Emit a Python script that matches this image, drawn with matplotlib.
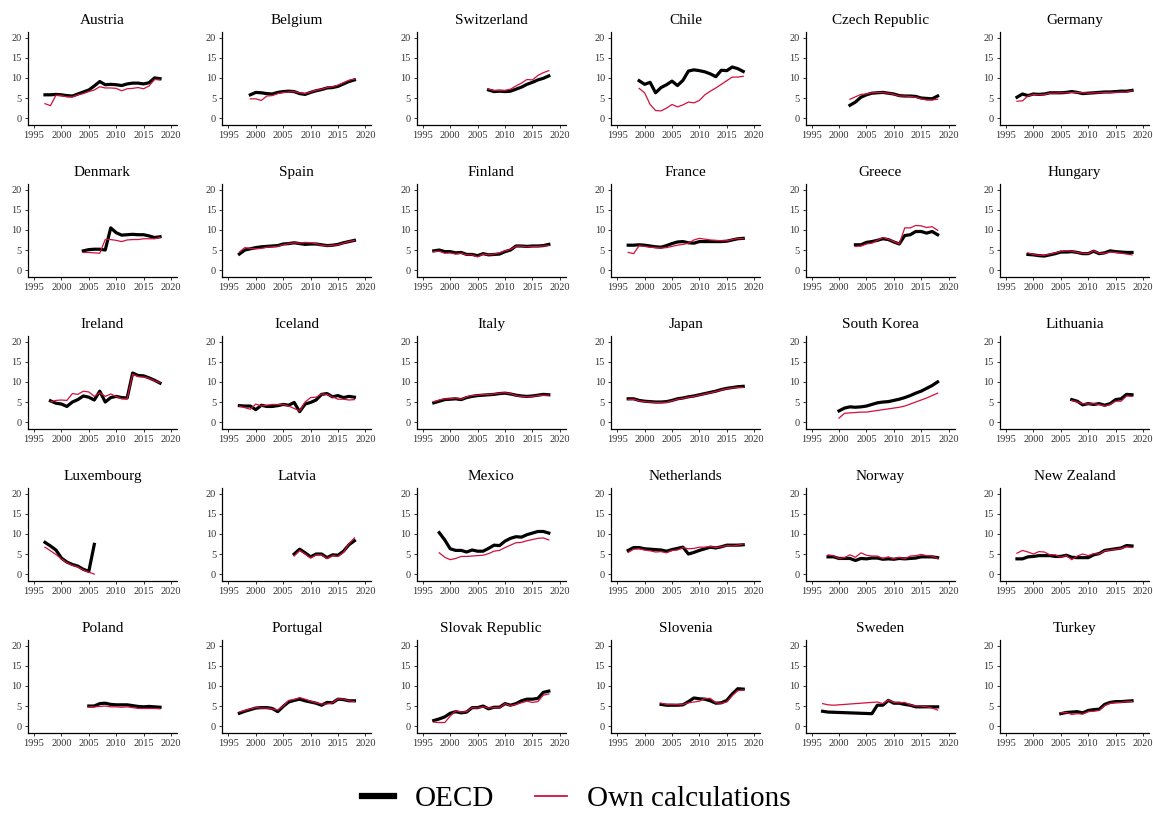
"""
Small multiples: OECD series vs own calculations, 30 countries, 1997-2018.
"""

import numpy as np
import matplotlib.pyplot as plt
from matplotlib.lines import Line2D

plt.rcParams["font.family"] = ["Liberation Serif", "DejaVu Serif"]

# -----------------------------
# 1. Data (value per year, None = missing)
# -----------------------------
countries = [
    "Austria", "Belgium", "Switzerland", "Chile", "Czech Republic", "Germany",
    "Denmark", "Spain", "Finland", "France", "Greece", "Hungary",
    "Ireland", "Iceland", "Italy", "Japan", "South Korea", "Lithuania",
    "Luxembourg", "Latvia", "Mexico", "Netherlands", "Norway", "New Zealand",
    "Poland", "Portugal", "Slovak Republic", "Slovenia", "Sweden", "Turkey",
]

# first year of each country's series
start_year = [
    1997, 1999, 2007, 1999, 2002, 1997,
    2004, 1997, 1997, 1997, 2003, 1999,
    1998, 1997, 1997, 1997, 2000, 2007,
    1997, 2007, 1998, 1997, 1998, 1997,
    2005, 1997, 1997, 2003, 1997, 2005,
]

austria_oecd = [5.8, 5.8, 5.9, 5.8, 5.6, 5.5, 6.0, 6.5, 7.0, 8.0, 9.1, 8.3, 8.4, 8.3, 8.1, 8.5, 8.7, 8.7, 8.5, 8.8, 10.0, 9.8]
austria_own = [3.6, 3.1, 5.7, 5.6, 5.3, 5.3, 5.8, 6.1, 6.6, 7.0, 7.8, 7.5, 7.5, 7.4, 6.8, 7.3, 7.4, 7.6, 7.3, 8.0, 9.6, 9.5]
belgium_oecd = [5.8, 6.4, 6.3, 6.1, 6.0, 6.4, 6.6, 6.7, 6.6, 6.1, 5.9, 6.4, 6.8, 7.1, 7.5, 7.6, 7.9, 8.5, 9.1, 9.5]
belgium_own = [4.8, 4.8, 4.4, 5.5, 5.6, 6.1, 6.4, 6.5, 6.6, 6.3, 6.1, 6.5, 6.9, 7.2, 7.6, 7.8, 8.2, 8.8, 9.4, 9.7]
switzerland_oecd = [7.0, 6.6, 6.7, 6.6, 6.7, 7.2, 7.7, 8.4, 8.9, 9.5, 9.9, 10.5]
switzerland_own = [7.2, 6.9, 6.9, 6.9, 7.2, 8.0, 8.7, 9.6, 9.5, 10.6, 11.3, 11.8]
chile_oecd = [9.3, 8.4, 8.9, 6.3, 7.6, 8.3, 9.2, 8.1, 9.4, 11.7, 12.0, 11.8, 11.5, 11.0, 10.3, 11.9, 11.8, 12.7, 12.3, 11.6]
chile_own = [7.4, 6.3, 3.4, 1.9, 1.8, 2.5, 3.4, 2.8, 3.3, 4.0, 3.8, 4.4, 5.8, 6.7, 7.5, 8.4, 9.3, 10.2, 10.2, 10.4]
czech_oecd = [3.2, 4.0, 5.2, 5.8, 6.2, 6.3, 6.4, 6.2, 6.0, 5.6, 5.5, 5.5, 5.4, 5.0, 4.9, 4.8, 5.5]
czech_own = [4.7, 5.3, 5.9, 6.0, 6.3, 6.4, 6.4, 6.2, 5.9, 5.5, 5.5, 5.4, 5.2, 4.8, 4.5, 4.5, 4.7]
germany_oecd = [5.2, 6.0, 5.6, 6.0, 5.9, 6.0, 6.3, 6.3, 6.3, 6.4, 6.6, 6.4, 6.1, 6.2, 6.3, 6.4, 6.5, 6.5, 6.6, 6.7, 6.7, 6.9]
germany_own = [4.2, 4.3, 5.5, 5.9, 5.8, 5.9, 6.2, 6.2, 6.3, 6.3, 6.4, 6.4, 6.3, 6.2, 6.3, 6.3, 6.4, 6.4, 6.4, 6.5, 6.5, 6.8]

denmark_oecd = [4.8, 5.1, 5.2, 5.2, 5.0, 10.5, 9.3, 8.7, 8.8, 8.9, 8.8, 8.8, 8.5, 8.1, 8.3]
denmark_own = [4.4, 4.4, 4.3, 4.2, 7.6, 7.6, 7.4, 7.1, 7.5, 7.6, 7.6, 7.8, 7.8, 7.8, 8.1]
spain_oecd = [4.0, 5.0, 5.3, 5.6, 5.8, 5.9, 6.0, 6.1, 6.5, 6.6, 6.8, 6.6, 6.4, 6.5, 6.5, 6.3, 6.1, 6.2, 6.4, 6.8, 7.1, 7.4]
spain_own = [4.5, 5.6, 5.4, 5.3, 5.4, 5.7, 5.8, 5.9, 6.3, 6.6, 6.8, 6.7, 6.9, 6.8, 6.6, 6.2, 6.0, 6.2, 6.3, 6.7, 7.1, 7.4]
finland_oecd = [4.8, 5.0, 4.6, 4.6, 4.3, 4.4, 3.9, 3.9, 3.6, 4.1, 3.8, 3.9, 4.0, 4.6, 5.0, 6.0, 6.0, 5.9, 6.0, 6.0, 6.1, 6.4]
finland_own = [4.6, 4.7, 4.2, 4.3, 4.0, 4.2, 3.8, 3.8, 3.3, 4.0, 3.8, 4.0, 4.3, 4.8, 5.1, 5.9, 6.0, 5.8, 5.9, 5.9, 6.0, 6.1]
france_oecd = [6.2, 6.2, 6.3, 6.2, 6.0, 5.8, 5.7, 6.1, 6.6, 7.0, 7.1, 6.8, 6.7, 7.1, 7.1, 7.1, 7.1, 7.1, 7.2, 7.5, 7.8, 7.9]
france_own = [4.4, 4.1, 6.1, 5.9, 5.7, 5.6, 5.5, 5.6, 5.9, 6.2, 6.4, 6.7, 7.5, 7.9, 7.7, 7.5, 7.4, 7.3, 7.3, 7.6, 7.9, 7.8]
greece_oecd = [6.3, 6.3, 6.9, 7.1, 7.4, 7.8, 7.6, 7.0, 6.5, 8.6, 8.8, 9.6, 9.6, 9.2, 9.6, 8.8]
greece_own = [5.9, 6.0, 6.5, 6.7, 7.4, 8.1, 7.7, 7.1, 6.5, 10.5, 10.5, 11.1, 11.0, 10.6, 10.8, 9.9]
hungary_oecd = [3.9, 3.8, 3.6, 3.5, 3.8, 4.1, 4.5, 4.5, 4.6, 4.4, 4.1, 4.1, 4.7, 4.1, 4.3, 4.8, 4.6, 4.5, 4.4, 4.4]
hungary_own = [4.3, 3.9, 3.7, 3.7, 4.0, 4.3, 4.7, 4.8, 4.7, 4.4, 4.2, 4.1, 4.8, 4.2, 4.2, 4.5, 4.4, 4.2, 4.0, 3.8]

ireland_oecd = [5.3, 4.7, 4.5, 3.9, 5.0, 5.6, 6.5, 6.2, 5.5, 7.7, 5.0, 6.1, 6.4, 6.1, 6.0, 12.2, 11.6, 11.5, 11.0, 10.4, 9.7]
ireland_own = [5.0, 5.4, 5.5, 5.4, 7.1, 6.9, 7.7, 7.5, 6.4, 7.3, 6.4, 7.0, 6.4, 5.8, 5.8, 11.9, 11.3, 11.2, 10.9, 10.3, 9.8]
iceland_oecd = [4.1, 4.0, 4.0, 3.1, 4.2, 3.9, 3.9, 4.1, 4.4, 4.2, 4.9, 2.6, 4.5, 4.9, 5.5, 6.9, 7.1, 6.3, 6.6, 6.1, 6.4, 6.2]
iceland_own = [4.0, 3.6, 3.2, 4.5, 4.0, 4.2, 4.4, 4.4, 4.4, 4.0, 3.4, 2.8, 5.0, 6.1, 6.2, 7.0, 6.9, 6.3, 5.7, 5.7, 5.5, 5.6]
italy_oecd = [4.8, 5.2, 5.6, 5.7, 5.8, 5.6, 6.1, 6.4, 6.6, 6.7, 6.8, 6.9, 7.1, 7.2, 7.0, 6.7, 6.5, 6.4, 6.5, 6.7, 6.9, 6.8]
italy_own = [5.1, 5.5, 5.8, 5.8, 6.0, 5.7, 6.3, 6.6, 6.7, 6.9, 6.9, 7.0, 7.2, 7.3, 7.1, 6.6, 6.4, 6.3, 6.4, 6.6, 6.7, 6.7]
japan_oecd = [5.8, 5.8, 5.4, 5.2, 5.1, 5.0, 5.0, 5.1, 5.4, 5.8, 6.0, 6.3, 6.5, 6.8, 7.1, 7.4, 7.7, 8.1, 8.4, 8.6, 8.8, 8.9]
japan_own = [5.6, 5.7, 5.3, 5.1, 5.0, 4.9, 4.9, 4.9, 5.3, 5.7, 5.9, 6.2, 6.4, 6.7, 7.0, 7.3, 7.6, 8.0, 8.3, 8.5, 8.6, 8.6]
korea_oecd = [2.8, 3.5, 3.8, 3.7, 3.8, 4.0, 4.4, 4.8, 5.0, 5.1, 5.4, 5.7, 6.1, 6.6, 7.2, 7.7, 8.4, 9.1, 10.0]
korea_own = [1.0, 2.2, 2.3, 2.4, 2.5, 2.5, 2.7, 2.9, 3.1, 3.3, 3.5, 3.7, 4.0, 4.5, 5.0, 5.5, 6.0, 6.6, 7.2]
lithuania_oecd = [5.6, 5.2, 4.3, 4.6, 4.4, 4.6, 4.2, 4.6, 5.6, 5.8, 6.9, 6.8]
lithuania_own = [5.4, 5.0, 4.6, 4.5, 4.6, 4.4, 4.0, 4.4, 5.2, 5.2, 6.5, 6.4]

luxembourg_oecd = [7.9, 7.0, 6.0, 4.0, 3.0, 2.4, 2.0, 1.2, 0.7, 7.4]
luxembourg_own = [6.7, 5.8, 4.9, 3.8, 2.9, 2.2, 1.8, 1.0, 0.5, 0.0]
latvia_oecd = [5.0, 6.2, 5.3, 4.3, 5.0, 5.0, 4.1, 4.8, 4.7, 5.7, 7.3, 8.3]
latvia_own = [4.5, 5.9, 5.0, 4.0, 4.8, 4.8, 3.9, 4.6, 4.4, 5.4, 7.6, 9.0]
mexico_oecd = [10.3, 8.5, 6.3, 5.9, 5.9, 5.5, 6.0, 5.7, 5.7, 6.4, 7.2, 7.1, 8.2, 8.9, 9.3, 9.2, 9.8, 10.2, 10.6, 10.6, 10.2]
mexico_own = [5.3, 4.2, 3.6, 3.9, 4.4, 4.4, 4.5, 4.6, 4.7, 5.1, 5.7, 5.9, 6.6, 7.2, 7.8, 7.9, 8.3, 8.6, 8.9, 9.0, 8.5]
netherlands_oecd = [5.9, 6.6, 6.6, 6.3, 6.2, 6.1, 6.0, 5.7, 6.1, 6.4, 6.7, 5.0, 5.4, 5.9, 6.3, 6.7, 6.5, 6.8, 7.2, 7.2, 7.2, 7.3]
netherlands_own = [5.4, 6.2, 6.3, 6.0, 5.8, 5.5, 5.6, 5.3, 5.9, 6.0, 6.6, 6.3, 6.4, 6.7, 6.7, 6.9, 6.6, 6.8, 7.1, 7.0, 7.2, 7.5]
norway_oecd = [4.3, 4.3, 3.9, 3.9, 3.9, 3.4, 3.9, 3.8, 4.0, 4.0, 3.7, 3.8, 3.7, 3.9, 3.8, 3.9, 4.0, 4.3, 4.3, 4.3, 4.1]
norway_own = [4.8, 4.6, 3.9, 4.1, 4.8, 4.2, 5.3, 4.7, 4.5, 4.5, 3.9, 4.3, 3.8, 4.2, 3.8, 4.5, 4.6, 4.9, 4.6, 4.5, 3.9]
nz_oecd = [3.8, 3.8, 4.3, 4.4, 4.6, 4.6, 4.6, 4.4, 4.4, 4.7, 4.2, 4.1, 4.1, 4.1, 4.8, 5.1, 5.9, 6.1, 6.3, 6.5, 7.1, 7.0]
nz_own = [5.2, 5.9, 5.5, 5.0, 5.6, 5.5, 4.8, 4.8, 4.2, 4.6, 3.6, 4.5, 5.0, 4.6, 5.1, 5.0, 5.8, 6.0, 6.2, 6.4, 6.8, 6.6]

poland_oecd = [5.0, 5.0, 5.6, 5.7, 5.4, 5.3, 5.3, 5.3, 5.1, 4.9, 4.8, 4.9, 4.8, 4.7]
poland_own = [4.8, 4.8, 4.9, 5.0, 4.8, 4.8, 4.7, 4.8, 4.6, 4.4, 4.4, 4.4, 4.4, 4.3]
portugal_oecd = [3.2, 3.7, 4.1, 4.5, 4.6, 4.6, 4.4, 3.6, 4.9, 6.0, 6.4, 6.7, 6.3, 6.0, 5.7, 5.2, 5.9, 5.8, 6.7, 6.6, 6.3, 6.3]
portugal_own = [3.5, 3.9, 4.3, 4.6, 4.5, 4.5, 4.3, 4.0, 5.0, 6.4, 6.6, 7.1, 6.7, 6.2, 5.8, 5.5, 5.5, 5.8, 6.8, 6.7, 6.3, 6.1]
slovakia_oecd = [1.4, 1.8, 2.3, 3.2, 3.6, 3.3, 3.5, 4.6, 4.6, 5.0, 4.3, 4.7, 4.7, 5.6, 5.2, 5.6, 6.3, 6.7, 6.7, 6.9, 8.4, 8.7]
slovakia_own = [1.0, 0.9, 0.9, 2.5, 3.8, 3.5, 3.6, 4.6, 4.5, 4.8, 4.5, 4.6, 4.6, 5.6, 5.1, 5.4, 5.8, 6.2, 5.9, 6.1, 7.7, 8.0]
slovenia_oecd = [5.4, 5.2, 5.2, 5.2, 5.3, 6.1, 7.0, 6.8, 6.7, 6.3, 5.7, 5.8, 6.4, 8.0, 9.3, 9.2]
slovenia_own = [5.7, 5.4, 5.4, 5.3, 5.4, 5.8, 6.0, 6.2, 6.9, 6.9, 5.8, 5.7, 6.0, 7.6, 8.8, 9.0]
sweden_oecd = [3.7, 3.5, None, None, None, None, None, None, None, 3.1, 5.2, 5.2, 6.4, 5.7, 5.7, 5.4, 5.2, 4.8, 4.8, 4.8, 4.8, 4.8]
sweden_own = [5.6, 5.3, 5.2, 5.3, 5.4, 5.5, 5.6, 5.7, 5.8, 5.9, 6.0, 5.6, 6.5, 5.9, 5.8, 5.9, 5.3, 5.0, 5.0, 4.8, 4.5, 4.0]
turkey_oecd = [3.1, 3.4, 3.5, 3.6, 3.3, 3.9, 4.1, 4.2, 5.4, 5.9, 6.1, 6.1, 6.2, 6.3]
turkey_own = [3.3, 3.4, 2.9, 3.1, 3.0, 3.6, 3.7, 3.9, 5.1, 5.7, 5.8, 5.9, 6.1, 6.1]

oecd_series = [
    austria_oecd, belgium_oecd, switzerland_oecd, chile_oecd, czech_oecd, germany_oecd,
    denmark_oecd, spain_oecd, finland_oecd, france_oecd, greece_oecd, hungary_oecd,
    ireland_oecd, iceland_oecd, italy_oecd, japan_oecd, korea_oecd, lithuania_oecd,
    luxembourg_oecd, latvia_oecd, mexico_oecd, netherlands_oecd, norway_oecd, nz_oecd,
    poland_oecd, portugal_oecd, slovakia_oecd, slovenia_oecd, sweden_oecd, turkey_oecd,
]
own_series = [
    austria_own, belgium_own, switzerland_own, chile_own, czech_own, germany_own,
    denmark_own, spain_own, finland_own, france_own, greece_own, hungary_own,
    ireland_own, iceland_own, italy_own, japan_own, korea_own, lithuania_own,
    luxembourg_own, latvia_own, mexico_own, netherlands_own, norway_own, nz_own,
    poland_own, portugal_own, slovakia_own, slovenia_own, sweden_own, turkey_own,
]

x_ticks = [1995, 2000, 2005, 2010, 2015, 2020]
y_ticks = [0, 5, 10, 15, 20]

OECD_COLOR = "black"
OWN_COLOR = "#d2103c"


def series_xy(first_year, values):
    # drop missing years so the line joins the observed points
    years = np.arange(first_year, first_year + len(values))
    pts = [(yr, v) for yr, v in zip(years, values) if v is not None]
    return [p[0] for p in pts], [p[1] for p in pts]


# -----------------------------
# 2. Figure with 5 x 6 panels
# -----------------------------
fig = plt.figure(figsize=(11.53, 8.15), dpi=100)

left0, width = 28 / 1153, 149 / 1153
col_step = 194.4 / 1153
bottom0, height = 1 - 125 / 815, 93 / 815
row_step = 152 / 815

for i, name in enumerate(countries):
    row, col = divmod(i, 6)
    ax = fig.add_axes([left0 + col * col_step, bottom0 - row * row_step, width, height])

    xs, ys = series_xy(start_year[i], oecd_series[i])
    ax.plot(xs, ys, color=OECD_COLOR, linewidth=2.3, solid_joinstyle="round")
    xs, ys = series_xy(start_year[i], own_series[i])
    ax.plot(xs, ys, color=OWN_COLOR, linewidth=0.9)

    ax.set_xlim(1993.9, 2021.1)
    ax.set_ylim(-1.7, 21.4)
    ax.set_xticks(x_ticks)
    ax.set_yticks(y_ticks)
    ax.tick_params(labelsize=7.5, length=2.5, width=0.7, colors="#333333", pad=2)
    for side in ("top", "right"):
        ax.spines[side].set_visible(False)
    for side in ("left", "bottom"):
        ax.spines[side].set_linewidth(0.9)
    ax.set_title(name, fontsize=11, pad=6)

# Legend at the bottom
handles = [
    Line2D([], [], color=OECD_COLOR, linewidth=4.5),
    Line2D([], [], color=OWN_COLOR, linewidth=1.3),
]
fig.legend(handles, ["OECD", "Own calculations"], loc="center",
           bbox_to_anchor=(0.5, 0.02), ncol=2, frameon=False, fontsize=21,
           handlelength=1.1, handletextpad=0.7, columnspacing=1.4)

plt.savefig("out.png", dpi=100)
